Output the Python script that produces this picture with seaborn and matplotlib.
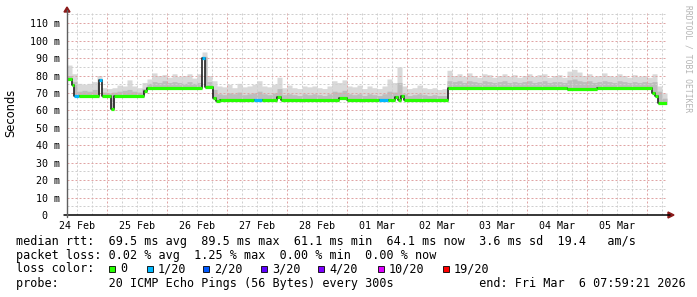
import numpy as np
import matplotlib
matplotlib.use("Agg")
import matplotlib.pyplot as plt
import seaborn as sns
from matplotlib.patches import Rectangle, Polygon
from matplotlib.lines import Line2D

# ---------------- data ----------------
day_labels = ["24 Feb", "25 Feb", "26 Feb", "27 Feb", "28 Feb",
              "01 Mar", "02 Mar", "03 Mar", "04 Mar", "05 Mar"]
# hours since 24 Feb 00:00
T_START = 8.0
T_END = 248.0

y_ticks = [0, 10, 20, 30, 40, 50, 60, 70, 80, 90, 100, 110]
y_tick_labels = ["0  ", "10 m", "20 m", "30 m", "40 m", "50 m", "60 m",
                 "70 m", "80 m", "90 m", "100 m", "110 m"]

# median rtt (ms) as step breakpoints
med_t = [8.0, 10.0, 10.8, 12.8, 20.8, 22.0, 25.6, 26.8, 38.8, 40.0, 62.0, 63.2,
         66.4, 67.6, 69.2, 82.8, 86.0, 92.0, 93.6, 116.8, 120.0, 132.8, 136.4,
         139.2, 140.4, 141.6, 142.8, 160.4, 208.0, 220.0, 242.0, 243.2, 244.4]
med_v = [77.8, 74.5, 68.4, 68.4, 77.4, 68.4, 60.8, 68.4, 71.2, 73.0, 89.8, 73.2,
         66.9, 65.6, 65.9, 65.9, 65.9, 67.8, 65.9, 67.0, 65.9, 65.9, 65.9,
         67.5, 66.0, 68.5, 65.9, 72.6, 72.0, 72.6, 70.0, 68.2, 64.0]
med_loss = [0, 0, 1, 0, 1, 0, 0, 0, 0, 0, 1, 0,
            0, 0, 0, 1, 0, 0, 0, 0, 0, 1, 0,
            0, 0, 0, 0, 0, 0, 0, 0, 0, 0]

# smoke (2-hour bins starting at T_START)
smoke_top = [86.0, 81.0, 75.5, 75.0, 75.5, 76.5, 80.0, 73.0, 72.5, 73.0,
             74.5, 74.0, 77.5, 74.0, 73.0, 76.0, 78.0, 81.5, 80.0, 80.5,
             79.0, 81.0, 79.5, 80.0, 81.0, 78.5, 81.0, 93.5, 80.0, 77.0,
             74.0, 73.5, 75.0, 73.0, 75.5, 73.5, 74.0, 75.0, 77.0, 74.0,
             73.5, 75.0, 79.0, 73.0, 74.5, 73.0, 72.5, 74.0, 73.5, 74.0,
             73.0, 72.5, 74.0, 77.0, 76.0, 77.5, 74.0, 73.5, 74.5, 72.5,
             74.0, 73.0, 72.5, 74.0, 78.0, 76.0, 85.0, 74.0, 72.5, 73.0,
             74.5, 73.0, 72.5, 73.0, 72.0, 72.5, 83.0, 80.0, 81.0, 79.5,
             81.5, 80.0, 79.0, 81.0, 80.5, 79.0, 80.0, 81.0, 79.5, 80.5,
             79.0, 80.0, 81.0, 79.5, 80.5, 81.0, 79.0, 80.0, 80.5, 79.0,
             82.5, 83.5, 82.0, 80.0, 81.0, 79.5, 80.0, 81.5, 80.0, 79.5,
             81.0, 80.0, 79.0, 80.5, 79.5, 80.0, 79.0, 81.0, 74.0, 70.0]
smoke_mid = [80.0, 76.5, 71.0, 71.5, 71.0, 72.0, 76.0, 70.5, 70.0, 70.5,
             71.0, 71.5, 72.0, 71.0, 70.5, 72.5, 75.5, 76.5, 76.0, 77.0,
             76.0, 76.5, 76.0, 75.5, 76.5, 75.5, 76.0, 91.0, 76.5, 72.0,
             69.5, 69.0, 70.0, 69.5, 70.5, 69.0, 69.5, 70.0, 71.0, 69.5,
             69.0, 70.0, 72.5, 69.0, 69.5, 69.0, 68.5, 69.5, 69.0, 69.5,
             69.0, 68.5, 69.5, 71.0, 70.5, 71.5, 69.5, 69.0, 69.5, 68.5,
             69.5, 69.0, 68.5, 69.5, 71.0, 70.5, 76.0, 69.5, 68.5, 69.0,
             69.5, 69.0, 68.5, 69.0, 68.5, 68.5, 77.0, 76.5, 77.0, 76.0,
             77.0, 76.5, 76.0, 77.0, 76.5, 76.0, 76.5, 77.0, 76.0, 76.5,
             76.0, 76.5, 77.0, 76.0, 76.5, 77.0, 76.0, 76.5, 76.5, 76.0,
             77.5, 78.0, 77.0, 76.5, 77.0, 76.0, 76.5, 77.0, 76.5, 76.0,
             77.0, 76.5, 76.0, 76.5, 76.0, 76.5, 76.0, 76.5, 71.0, 67.0]

loss_labels = ["0", "1/20", "2/20", "3/20", "4/20", "10/20", "19/20"]
loss_colors = ["#26ff00", "#00b8ff", "#0059ff", "#5e00ff", "#7e00ff", "#dd00ff", "#ff0000"]

legend_lines = [
    "median rtt:  69.5 ms avg  89.5 ms max  61.1 ms min  64.1 ms now  3.6 ms sd  19.4   am/s",
    "packet loss: 0.02 % avg  1.25 % max  0.00 % min  0.00 % now",
    "loss color:",
    "probe:       20 ICMP Echo Pings (56 Bytes) every 300s            end: Fri Mar  6 07:59:21 2026",
]

# ---------------- figure ----------------
W, H = 697, 297
sns.set_style("white")
plt.rcParams["font.family"] = ["DejaVu Sans"]
MONO = "DejaVu Sans Mono"

fig = plt.figure(figsize=(W / 100, H / 100), dpi=100)
fig.patch.set_facecolor("white")

X0, X1, Y0, YT = 67, 667, 215, 11
ax = fig.add_axes([X0 / W, (H - Y0) / H, (X1 - X0) / W, (Y0 - YT) / H])
ax.set_facecolor("white")
ax.set_xlim(T_START, T_END)
ax.set_ylim(0, 117)
for s in ax.spines.values():
    s.set_visible(False)


def fx(x):
    return x / W


def fy(y):
    return 1 - y / H


# smoke
tt = np.arange(T_START, T_END, 0.05)
tt = np.append(tt, T_END)
mt = np.array(med_t)
mv = np.array(med_v)
idx = np.clip(np.searchsorted(mt, tt, side="right") - 1, 0, len(mv) - 1)
bottom = mv[idx]
bidx = np.clip(((tt - T_START) // 2).astype(int), 0, len(smoke_top) - 1)
top = np.maximum(np.array(smoke_top)[bidx], bottom)
mid = np.maximum(np.array(smoke_mid)[bidx], bottom)
ax.fill_between(tt, bottom - 0.6, top, step="post", color="#d9d9d9", lw=0, zorder=1)
ax.fill_between(tt, bottom - 0.6, mid, step="post", color="#bdbdbd", lw=0, zorder=1.1)

# grid (drawn over smoke)
dash = (0, (2, 2))
for h in range(12, 248, 6):
    col = "#e0a4a4" if h % 24 == 0 else "#cfcfcf"
    ax.axvline(h, color=col, lw=0.72, ls=dash, zorder=2.5)
for v in range(5, 117, 5):
    col = "#e0a4a4" if v % 10 == 0 else "#cfcfcf"
    ax.axhline(v, color=col, lw=0.72, ls=dash, zorder=2.5)

# median: black step + coloured horizontal segments
step_x = med_t + [T_END]
step_y = med_v + [med_v[-1]]
sns.lineplot(x=step_x, y=step_y, drawstyle="steps-post", color="#101010",
             linewidth=1.1, ax=ax, zorder=3, estimator=None, sort=False)
seg_end = med_t[1:] + [T_END]
ax.hlines(med_v, med_t, seg_end, colors=[loss_colors[l] for l in med_loss],
          lw=2.3, zorder=4)

# ticks
ax.set_xticks([12 + 24 * i for i in range(len(day_labels))])
ax.set_xticklabels(day_labels, fontfamily=MONO, fontsize=7.2)
ax.set_yticks(y_ticks)
ax.set_yticklabels(y_tick_labels, fontfamily=MONO, fontsize=7.2)
ax.tick_params(axis="both", length=0, colors="#000000")
ax.tick_params(axis="x", pad=4)
ax.tick_params(axis="y", pad=5)
ax.set_xlabel("")
ax.set_ylabel("")

# axes lines and arrows (figure pixel coords)
fig.add_artist(Line2D([fx(64), fx(670)], [fy(215), fy(215)], color="#000000",
                      lw=1.1, transform=fig.transFigure))
fig.add_artist(Line2D([fx(67), fx(67)], [fy(217), fy(10)], color="#606060",
                      lw=1.0, transform=fig.transFigure))
fig.add_artist(Polygon([[fx(668), fy(212)], [fx(674), fy(215)], [fx(668), fy(218)]],
                       closed=True, color="#8b1a1a", transform=fig.transFigure))
fig.add_artist(Polygon([[fx(64), fy(12)], [fx(67), fy(7)], [fx(70), fy(12)]],
                       closed=True, color="#8b1a1a", transform=fig.transFigure))

# y label
fig.text(fx(11), fy(113), "Seconds", rotation=90, ha="center", va="center",
         fontsize=8.3, color="#000000")
# watermark
fig.text(fx(688), fy(59), "RRDTOOL / TOBI OETIKER", rotation=270, ha="center",
         va="center", fontsize=5.8, fontfamily=MONO, color="#b4b4b4")

# legend lines
FS = 8.5
tk = dict(fontsize=FS, fontfamily=MONO, va="center", ha="left", color="#000000")
for yy, txt in zip([241, 255, 269, 283], legend_lines):
    fig.text(fx(16), fy(yy), txt, **tk)
box_x = [109, 147, 203, 261, 318, 378, 443]
for bx, lab, col in zip(box_x, loss_labels, loss_colors):
    fig.add_artist(Rectangle((fx(bx), fy(272)), 6 / W, 6 / H, facecolor=col,
                             edgecolor="#000000", lw=0.6, transform=fig.transFigure))
    fig.text(fx(bx + 11), fy(269), lab, **tk)

fig.savefig("out.png", dpi=100, facecolor="white")
